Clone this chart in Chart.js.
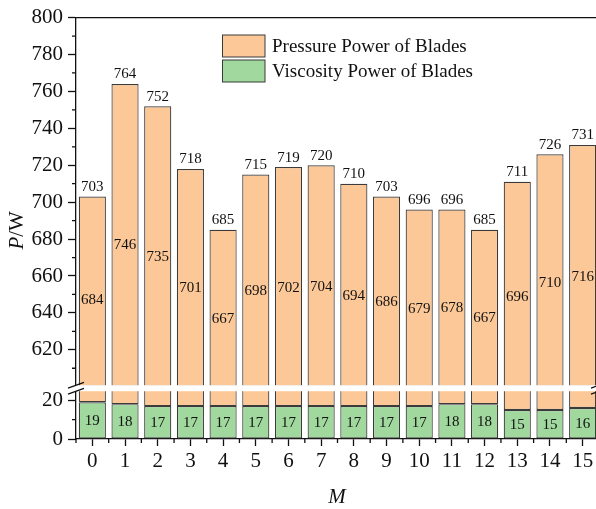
<!DOCTYPE html>
<html>
<head>
<meta charset="utf-8">
<script src="https://cdn.jsdelivr.net/npm/chart.js@4.4.1/dist/chart.umd.min.js"></script>
<style>
  html, body { margin: 0; padding: 0; background: #fff; overflow: hidden; }
  #wrap { width: 596px; height: 509px; overflow: hidden; }
  canvas { display: block; }
</style>
</head>
<body>
<div id="wrap"><canvas id="power-chart" width="600" height="509"></canvas></div>
<script>
  const categories = ['0', '1', '2', '3', '4', '5', '6', '7', '8', '9', '10', '11', '12', '13', '14', '15'];
  const pressurePower = [684, 746, 735, 701, 667, 698, 702, 704, 694, 686, 679, 678, 667, 696, 710, 716];
  const viscosityPower = [19, 18, 17, 17, 17, 17, 17, 17, 17, 17, 17, 18, 18, 15, 15, 16];
  const totalPower = [703, 764, 752, 718, 685, 715, 719, 720, 710, 703, 696, 696, 685, 711, 726, 731];
  const seriesNames = ['Pressure Power of Blades', 'Viscosity Power of Blades'];

  // broken y axis: lower part 0..27, upper part 600..800
  const LOW_MAX = 27;
  const HIGH_MIN = 600;
  const HIGH_MAX = 800;
  const upperTicks = [620, 640, 660, 680, 700, 720, 740, 760, 780, 800];
  const upperMinor = [610, 630, 650, 670, 690, 710, 730, 750, 770, 790];
  const lowerTicks = [0, 20];
  const lowerMinor = [10];

  const SERIF = "'Liberation Serif', 'Times New Roman', serif";
  const ORANGE = '#FCC897';
  const GREEN = '#A0D89D';
  const EDGE = '#3b3b3b';
  const INK = '#111';

  function yScale(weight, min, max, ticks) {
    return {
      type: 'linear',
      position: 'left',
      stack: 'power',
      stackWeight: weight,
      min,
      max,
      afterBuildTicks: s => { s.ticks = ticks.map(v => ({ value: v })); },
      afterFit: s => { s.width = 76; },
      grid: { drawOnChartArea: false, tickLength: 8, tickColor: INK, tickWidth: 1.3 },
      border: { color: INK, width: 1.3 },
      ticks: { color: INK, font: { family: SERIF, size: 21 }, padding: 5, autoSkip: false },
    };
  }

  const decor = {
    id: 'bladeDecor',
    afterDatasetsDraw(chart) {
      const ctx = chart.ctx;
      const green = chart.getDatasetMeta(0).data;
      const high = chart.getDatasetMeta(2).data;
      ctx.save();
      ctx.fillStyle = INK;
      ctx.textAlign = 'center';
      ctx.font = `15px ${SERIF}`;
      categories.forEach((c, i) => {
        const g = green[i];
        const h = high[i];
        ctx.textBaseline = 'bottom';
        ctx.fillText(String(totalPower[i]), h.x, h.y - 2);
        ctx.textBaseline = 'middle';
        ctx.fillText(String(pressurePower[i]), h.x, (h.y + g.y) / 2 + 1);
        ctx.fillText(String(viscosityPower[i]), g.x, (g.y + g.base) / 2 + 1);
      });
      ctx.restore();
    },
    afterDraw(chart) {
      const ctx = chart.ctx;
      const area = chart.chartArea;
      const x = chart.scales.x;
      const yLow = chart.scales.yLow;
      const yHigh = chart.scales.yHigh;
      ctx.save();

      // break gap
      const gy = yHigh.bottom - 1.5;
      ctx.fillStyle = '#fff';
      ctx.fillRect(area.left - 1, gy, chart.width, 6);
      ctx.strokeStyle = INK;
      ctx.lineWidth = 1.3;
      [area.left, area.right].forEach(bx => {
        [gy, gy + 6].forEach(by => {
          ctx.beginPath();
          ctx.moveTo(bx - 8, by + 2.8);
          ctx.lineTo(bx + 8, by - 2.8);
          ctx.stroke();
        });
      });

      // top frame line
      ctx.beginPath();
      ctx.moveTo(area.left, area.top);
      ctx.lineTo(chart.width, area.top);
      ctx.stroke();

      // minor ticks
      ctx.beginPath();
      upperMinor.forEach(v => {
        const py = yHigh.getPixelForValue(v);
        ctx.moveTo(area.left - 4, py);
        ctx.lineTo(area.left, py);
      });
      lowerMinor.forEach(v => {
        const py = yLow.getPixelForValue(v);
        ctx.moveTo(area.left - 4, py);
        ctx.lineTo(area.left, py);
      });
      for (let i = 0; i <= categories.length; i++) {
        const px = x.getPixelForValue(i) - (x.getPixelForValue(1) - x.getPixelForValue(0)) / 2;
        ctx.moveTo(px, area.bottom);
        ctx.lineTo(px, area.bottom + 4);
      }
      ctx.stroke();

      // axis titles
      ctx.fillStyle = INK;
      ctx.textBaseline = 'alphabetic';
      ctx.save();
      ctx.translate(23, (area.top + area.bottom) / 2 + 2);
      ctx.rotate(-Math.PI / 2);
      ctx.font = `italic 21px ${SERIF}`;
      const pw = ctx.measureText('P').width;
      ctx.font = `21px ${SERIF}`;
      const rw = ctx.measureText('/W').width;
      ctx.textAlign = 'left';
      ctx.font = `italic 21px ${SERIF}`;
      ctx.fillText('P', -(pw + rw) / 2, 0);
      ctx.font = `21px ${SERIF}`;
      ctx.fillText('/W', -(pw + rw) / 2 + pw, 0);
      ctx.restore();

      ctx.textAlign = 'center';
      ctx.font = `italic 21px ${SERIF}`;
      ctx.fillText('M', 337, 503);

      // legend
      const colors = [ORANGE, GREEN];
      ctx.font = `19px ${SERIF}`;
      ctx.textAlign = 'left';
      ctx.textBaseline = 'middle';
      seriesNames.forEach((name, i) => {
        const by = 35 + i * 25;
        ctx.fillStyle = colors[i];
        ctx.fillRect(222.5, by, 42.5, 22);
        ctx.strokeStyle = EDGE;
        ctx.lineWidth = 1;
        ctx.strokeRect(222.5, by, 42.5, 22);
        ctx.fillStyle = INK;
        ctx.fillText(name, 272, by + 12);
      });
      ctx.restore();
    },
  };

  const barStyle = {
    borderColor: EDGE,
    borderWidth: 1.2,
    borderSkipped: false,
    grouped: false,
    barPercentage: 0.83,
    categoryPercentage: 1,
  };

  new Chart(document.getElementById('power-chart'), {
    type: 'bar',
    data: {
      labels: categories,
      datasets: [
        { ...barStyle, label: seriesNames[1], data: viscosityPower, backgroundColor: GREEN, yAxisID: 'yLow' },
        { ...barStyle, label: seriesNames[0] + ' (low)', data: viscosityPower.map(v => [v, LOW_MAX]), backgroundColor: ORANGE, yAxisID: 'yLow' },
        { ...barStyle, label: seriesNames[0], data: totalPower.map(t => [HIGH_MIN, t]), backgroundColor: ORANGE, yAxisID: 'yHigh' },
      ],
    },
    options: {
      responsive: false,
      animation: false,
      layout: { padding: { top: 15, right: 1, bottom: 0, left: 0 } },
      plugins: { legend: { display: false }, tooltip: { enabled: false } },
      scales: {
        x: {
          type: 'category',
          offset: true,
          afterFit: s => { s.height = 70; },
          grid: { offset: false, drawOnChartArea: false, tickLength: 7, tickColor: INK, tickWidth: 1.3 },
          border: { color: INK, width: 1.3 },
          ticks: { color: INK, font: { family: SERIF, size: 21 }, padding: 3, maxRotation: 0, autoSkip: false },
        },
        yLow: yScale(52.6, 0, LOW_MAX, lowerTicks),
        yHigh: yScale(371.4, HIGH_MIN, HIGH_MAX, upperTicks),
      },
    },
    plugins: [decor],
  });
</script>
</body>
</html>
